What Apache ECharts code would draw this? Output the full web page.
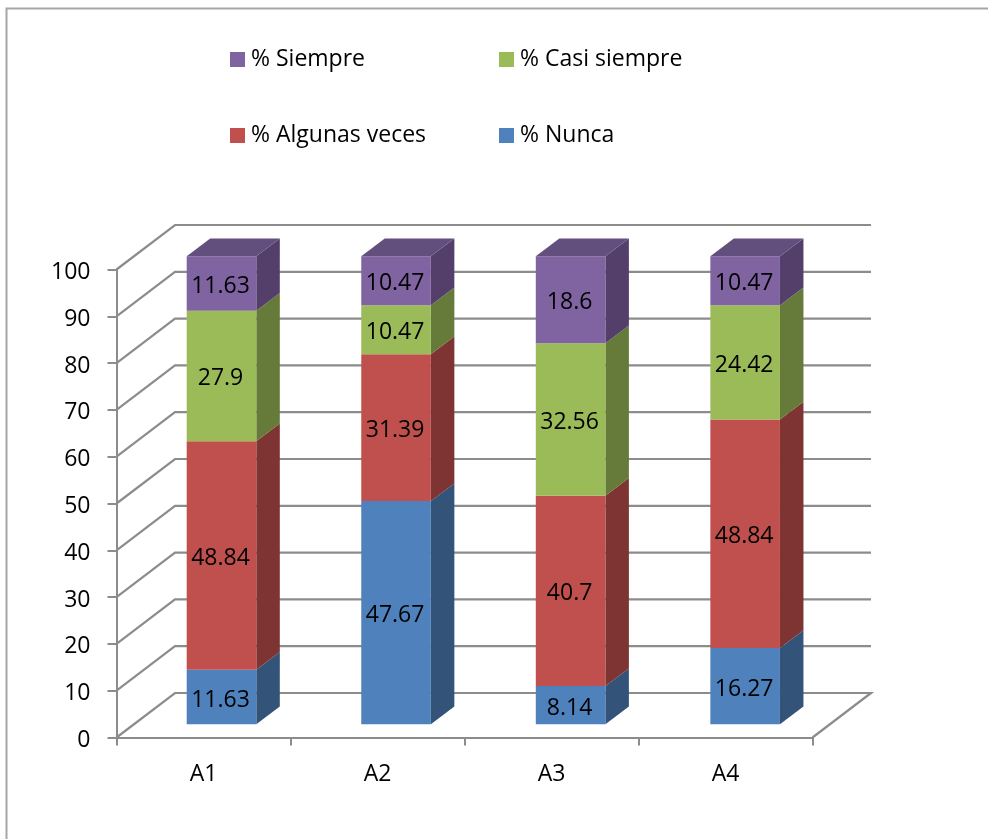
<!DOCTYPE html>
<html>
<head>
<meta charset="utf-8">
<style>html,body{margin:0;padding:0;background:#fff}#c{width:988px;height:839px}</style>
<script src="https://cdn.jsdelivr.net/npm/echarts@6/dist/echarts.min.js"></script>
</head>
<body>
<div id="c"></div>
<script>
var categories = ['A1', 'A2', 'A3', 'A4'];
var tickValues = [0, 10, 20, 30, 40, 50, 60, 70, 80, 90, 100];
var nunca = [11.63, 47.67, 8.14, 16.27];
var algunasVeces = [48.84, 31.39, 40.7, 48.84];
var casiSiempre = [27.9, 10.47, 32.56, 24.42];
var siempre = [11.63, 10.47, 18.6, 10.47];

var FONT = '"Open Sans", sans-serif';
var WALL = [58.5, -44.5];
var BAR_SHIFT = [18, -13.3];
var BAR_SPREAD = 0.55;
var BAR_DEPTH = [23.5, -17.7];
var GRAY = '#8c8c8c';

var stacks = [
  {name: '% Nunca', values: nunca, front: '#4F81BD', side: '#335478', top: '#3F6797'},
  {name: '% Algunas veces', values: algunasVeces, front: '#C0504D', side: '#7D3432', top: '#994040'},
  {name: '% Casi siempre', values: casiSiempre, front: '#9BBB59', side: '#667A3A', top: '#7C9547'},
  {name: '% Siempre', values: siempre, front: '#8064A2', side: '#533F69', top: '#634F7D'}
];

function poly(points, fill) {
  return {type: 'polygon', shape: {points: points}, style: {fill: fill}, silent: true};
}

function wallItem(params, api) {
  var t = api.value(0);
  var cs = params.coordSys;
  var p = api.coord([0, t]);
  var y = p[1];
  var x0 = cs.x, x1 = cs.x + cs.width;
  var pts = [[x0, y], [x0 + WALL[0], y + WALL[1]], [x1 + WALL[0], y + WALL[1]]];
  if (t === 0) pts.push([x1, y]);
  return {type: 'polyline', shape: {points: pts}, style: {fill: null, stroke: GRAY, lineWidth: 2.2}, silent: true};
}

function barItem(stack, isLast) {
  return function (params, api) {
    var idx = api.value(0), base = api.value(1), val = api.value(2);
    var w = api.size([1, 0])[0] * 0.4;
    var c0 = api.coord([idx, base]), c1 = api.coord([idx, base + val]);
    var l = c0[0] - w / 2 + BAR_SHIFT[0] + idx * BAR_SPREAD, r = l + w;
    var b = c0[1] + BAR_SHIFT[1], t = c1[1] + BAR_SHIFT[1];
    var dx = BAR_DEPTH[0], dy = BAR_DEPTH[1];
    var kids = [
      poly([[r, b], [r + dx, b + dy], [r + dx, t + dy], [r, t]], stack.side),
      poly([[l, b], [r, b], [r, t], [l, t]], stack.front)
    ];
    if (isLast) kids.push(poly([[l, t], [r, t], [r + dx, t + dy], [l + dx, t + dy]], stack.top));
    kids.push({
      type: 'text', silent: true, z2: 10,
      style: {
        text: String(val), x: (l + r) / 2 - 1, y: (t + b) / 2 + 3,
        align: 'center', verticalAlign: 'middle',
        font: '23px ' + FONT, fill: '#000'
      }
    });
    return {type: 'group', children: kids};
  };
}

var series = [{
  type: 'custom', name: 'walls', coordinateSystem: 'cartesian2d', z: 1, clip: false, silent: true,
  data: tickValues.map(function (t) { return [t]; }),
  encode: {y: 0},
  renderItem: wallItem
}];
var running = categories.map(function () { return 0; });
stacks.forEach(function (s, si) {
  var rows = s.values.map(function (v, i) {
    var row = [i, running[i], v];
    running[i] += v;
    return row;
  });
  series.push({
    type: 'custom', name: s.name, coordinateSystem: 'cartesian2d', z: 2 + si, clip: false, silent: true,
    itemStyle: {color: s.front},
    data: rows,
    encode: {x: 0, y: [1, 2]},
    renderItem: barItem(s, si === stacks.length - 1)
  });
});

function legendAt(name, left, top) {
  return {
    data: [{name: name, icon: 'rect'}], left: left, top: top, orient: 'horizontal', padding: 0,
    itemWidth: 15, itemHeight: 15, itemGap: 0, selectedMode: false,
    textStyle: {fontFamily: FONT, fontSize: 23, color: '#000', padding: [5, 0, 0, 1]}
  };
}

var chart = echarts.init(document.getElementById('c'), null, {renderer: 'canvas'});
chart.setOption({
  animation: false,
  backgroundColor: '#fff',
  grid: {left: 116.5, top: 269.5, width: 696, height: 468, containLabel: false},
  legend: [
    legendAt('% Siempre', 230, 48),
    legendAt('% Casi siempre', 499, 48),
    legendAt('% Algunas veces', 230, 124),
    legendAt('% Nunca', 499, 124)
  ],
  xAxis: {
    type: 'category', data: categories, boundaryGap: true,
    axisLine: {lineStyle: {color: GRAY, width: 2}},
    axisTick: {show: true, alignWithLabel: false, length: 8, lineStyle: {color: GRAY, width: 2}},
    axisLabel: {fontFamily: FONT, fontSize: 23, color: '#000', margin: 25},
    splitLine: {show: false}
  },
  yAxis: {
    type: 'value', min: 0, max: 100, interval: 10,
    axisLine: {show: true, lineStyle: {color: GRAY, width: 2}},
    axisTick: {show: true, length: 9, lineStyle: {color: GRAY, width: 2}},
    axisLabel: {
      color: '#000', margin: 26, formatter: '{v|{value}}',
      rich: {v: {fontFamily: FONT, fontSize: 23, color: '#000', padding: [6, 0, 0, 0]}}
    },
    splitLine: {show: false}
  },
  graphic: [{
    type: 'polyline', silent: true, z: -1,
    shape: {points: [[6.5, 839], [6.5, 8.5], [988, 8.5]]},
    style: {fill: null, stroke: '#a6a6a6', lineWidth: 2}
  }],
  series: series
});
</script>
</body>
</html>
